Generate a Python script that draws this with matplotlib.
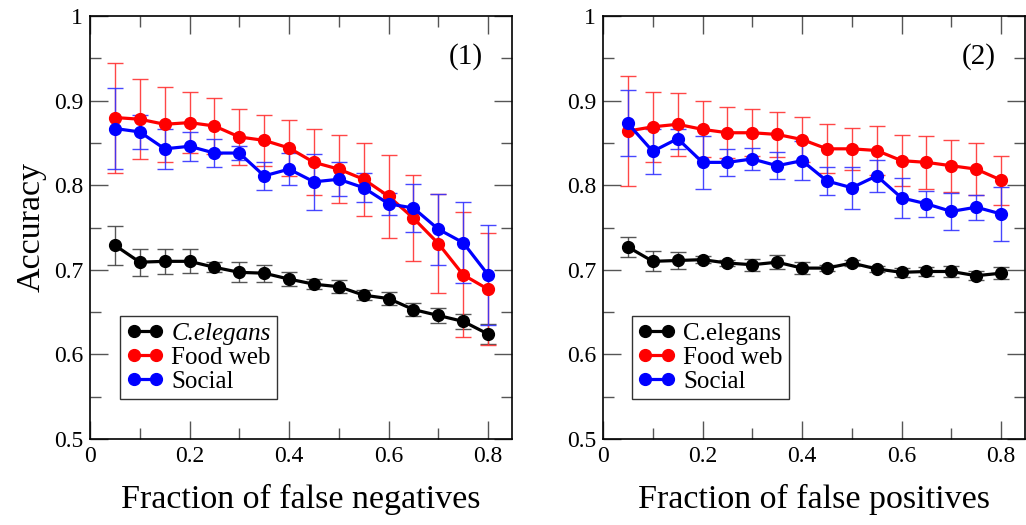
import numpy as np
import matplotlib
matplotlib.use("Agg")
import matplotlib.pyplot as plt
from matplotlib.ticker import MultipleLocator, FuncFormatter

x = [0.05, 0.10, 0.15, 0.20, 0.25, 0.30, 0.35, 0.40, 0.45, 0.50, 0.55, 0.60, 0.65, 0.70, 0.75, 0.80]

# Panel (1): false negatives
fn_celegans = [0.729, 0.709, 0.710, 0.710, 0.703, 0.697, 0.696, 0.689, 0.683, 0.680, 0.670, 0.666, 0.653, 0.646, 0.639, 0.624]
fn_celegans_err = [0.023, 0.016, 0.015, 0.014, 0.006, 0.012, 0.010, 0.008, 0.006, 0.008, 0.006, 0.008, 0.008, 0.009, 0.009, 0.012]
fn_food = [0.880, 0.878, 0.872, 0.874, 0.870, 0.857, 0.853, 0.844, 0.827, 0.819, 0.807, 0.787, 0.761, 0.731, 0.694, 0.677]
fn_food_err = [0.065, 0.047, 0.044, 0.036, 0.033, 0.033, 0.030, 0.033, 0.039, 0.040, 0.043, 0.049, 0.051, 0.059, 0.074, 0.066]
fn_social = [0.867, 0.863, 0.843, 0.846, 0.838, 0.838, 0.811, 0.819, 0.804, 0.807, 0.797, 0.778, 0.773, 0.748, 0.732, 0.694]
fn_social_err = [0.048, 0.020, 0.024, 0.017, 0.017, 0.008, 0.017, 0.019, 0.033, 0.020, 0.017, 0.013, 0.028, 0.042, 0.048, 0.059]

# Panel (2): false positives
fp_celegans = [0.727, 0.710, 0.711, 0.712, 0.708, 0.706, 0.709, 0.702, 0.702, 0.708, 0.701, 0.697, 0.698, 0.698, 0.693, 0.696]
fp_celegans_err = [0.012, 0.012, 0.010, 0.004, 0.004, 0.007, 0.008, 0.007, 0.004, 0.004, 0.004, 0.005, 0.005, 0.006, 0.005, 0.007]
fp_food = [0.864, 0.869, 0.872, 0.866, 0.862, 0.862, 0.860, 0.854, 0.843, 0.843, 0.841, 0.829, 0.827, 0.823, 0.819, 0.806]
fp_food_err = [0.065, 0.041, 0.037, 0.033, 0.030, 0.028, 0.027, 0.027, 0.029, 0.025, 0.029, 0.030, 0.031, 0.031, 0.031, 0.029]
fp_social = [0.873, 0.840, 0.855, 0.827, 0.827, 0.831, 0.823, 0.829, 0.805, 0.797, 0.811, 0.785, 0.778, 0.769, 0.774, 0.766]
fp_social_err = [0.039, 0.027, 0.012, 0.031, 0.016, 0.013, 0.016, 0.023, 0.017, 0.025, 0.019, 0.024, 0.015, 0.022, 0.015, 0.032]

labels = ["C.elegans", "Food web", "Social"]
colors = ["black", "#ff0000", "#0000ff"]
err_colors = ["#444444", "#ff3333", "#3333ff"]
xlabels = ["Fraction of false negatives", "Fraction of false positives"]
panel_tags = ["(1)", "(2)"]

plt.rcParams['font.family'] = ['Liberation Serif', 'DejaVu Serif']

fig = plt.figure(figsize=(10.26, 5.25), dpi=100)
W, H = 1026.0, 525.0
ax1 = fig.add_axes([90 / W, 1 - 439 / H, 422 / W, 423 / H])
ax2 = fig.add_axes([603 / W, 1 - 439 / H, 422 / W, 423 / H])

panels = [
    (ax1, [(fn_celegans, fn_celegans_err), (fn_food, fn_food_err), (fn_social, fn_social_err)]),
    (ax2, [(fp_celegans, fp_celegans_err), (fp_food, fp_food_err), (fp_social, fp_social_err)]),
]

for i, (ax, series) in enumerate(panels):
    handles = []
    for (vals, errs), col, ecol, lab in zip(series, colors, err_colors, labels):
        ax.errorbar(x, vals, yerr=errs, fmt='none', ecolor=ecol, elinewidth=1.0,
                    capsize=6, capthick=1.0, alpha=0.9, zorder=2)
        h, = ax.plot(x, vals, '-o', color=col, lw=2.3, ms=8.5, zorder=3)
        handles.append(h)
    ax.set_xlim(0, 0.848)
    ax.set_ylim(0.5, 1.0)
    ax.xaxis.set_major_locator(MultipleLocator(0.2))
    ax.xaxis.set_minor_locator(MultipleLocator(0.1))
    ax.yaxis.set_major_locator(MultipleLocator(0.1))
    ax.yaxis.set_minor_locator(MultipleLocator(0.05))
    fmt = FuncFormatter(lambda v, p: ('%g' % round(v, 3)))
    ax.xaxis.set_major_formatter(fmt)
    ax.yaxis.set_major_formatter(fmt)
    ax.tick_params(which='both', direction='in', top=True, right=True,
                   color='#555555', width=1.0, labelsize=17)
    ax.tick_params(which='major', length=13, pad=5)
    ax.tick_params(which='minor', length=8)
    for sp in ax.spines.values():
        sp.set_linewidth(1.2)
    ax.set_xlabel(xlabels[i], fontsize=24.5, labelpad=12)
    ax.text(0.89, 0.905, panel_tags[i], transform=ax.transAxes, fontsize=21,
            ha='center', va='center')
    leg = ax.legend(handles, list(labels), loc='lower left',
                    bbox_to_anchor=(0.071 if i == 0 else 0.068, 0.0946),
                    borderaxespad=0, fontsize=18, numpoints=2, handlelength=1.5,
                    handletextpad=0.3, labelspacing=0.05, borderpad=0.25,
                    frameon=True, fancybox=False, edgecolor='black')
    leg.get_frame().set_linewidth(1.0)
    if i == 0:
        leg.get_texts()[0].set_fontstyle('italic')

ax1.set_ylabel("Accuracy", fontsize=24.5, labelpad=5)

fig.savefig("out.png", dpi=100)
